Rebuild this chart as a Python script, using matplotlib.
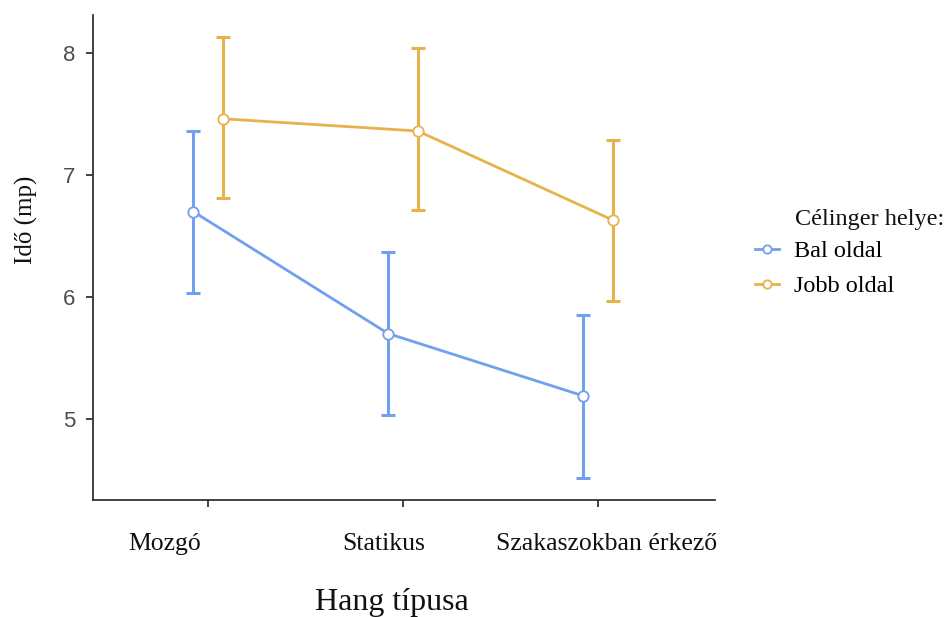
import matplotlib
matplotlib.use("Agg")
import matplotlib.pyplot as plt
import matplotlib.transforms as mtransforms
import numpy as np

categories = ["Mozgó", "Statikus", "Szakaszokban érkező"]
series_names = ["Bal oldal", "Jobb oldal"]
bal_mean = [6.70, 5.70, 5.19]
bal_low = [6.03, 5.03, 4.52]
bal_high = [7.36, 6.37, 5.85]
jobb_mean = [7.46, 7.36, 6.63]
jobb_low = [6.81, 6.71, 5.97]
jobb_high = [8.13, 8.04, 7.29]
y_ticks = [5, 6, 7, 8]

colors = ["#70A0EE", "#E8B24A"]
serif = ["Liberation Serif", "DejaVu Serif"]

fig = plt.figure(figsize=(9.48, 6.17), dpi=100)
ax = fig.add_axes([0.0981, 0.1896, 0.656, 0.786])

x = np.arange(len(categories))
dodge = 0.076
data = [(bal_mean, bal_low, bal_high), (jobb_mean, jobb_low, jobb_high)]
for i, (m, lo, hi) in enumerate(data):
    m = np.array(m); lo = np.array(lo); hi = np.array(hi)
    xs = x + (-dodge if i == 0 else dodge)
    ax.errorbar(xs, m, yerr=[m - lo, hi - m], fmt="none", ecolor=colors[i],
                elinewidth=2.2, capsize=5, capthick=2.2, zorder=2)
    ax.plot(xs, m, color=colors[i], lw=2, marker="o", markersize=7.5,
            markerfacecolor="white", markeredgecolor=colors[i],
            markeredgewidth=1.3, label=series_names[i], zorder=3)

ax.set_xlim(-0.59, 2.6)
ax.set_ylim(4.336, 8.31)
ax.set_yticks(y_ticks)
ax.set_yticklabels([str(t) for t in y_ticks], fontsize=16, color="#4d4d4d",
                   family=["Liberation Sans", "DejaVu Sans"])
ax.set_xticks(x)
ax.set_xticklabels(categories, fontsize=18.5, color="#111111", family=serif)
ax.tick_params(axis="x", length=5, width=1.3, color="#333333", pad=19)
ax.tick_params(axis="y", length=5, width=1.3, color="#333333", pad=8)

# shift x tick labels like the reference
offsets_px = [-43, -19, 9]
for lab, dx in zip(ax.get_xticklabels(), offsets_px):
    lab.set_transform(lab.get_transform() +
                      mtransforms.ScaledTranslation(dx / 100, 0, fig.dpi_scale_trans))

for s in ["top", "right"]:
    ax.spines[s].set_visible(False)
for s in ["left", "bottom"]:
    ax.spines[s].set_linewidth(1.3)
    ax.spines[s].set_color("#333333")

ax.set_xlabel("Hang típusa", fontsize=23, family=serif, color="#111111")
ax.xaxis.set_label_coords(0.48, -0.182)
ax.set_ylabel("Idő (mp)", fontsize=18, family=serif, color="#111111")
ax.yaxis.set_label_coords(-0.088, 0.577)

leg = ax.legend(loc="upper left",
                bbox_to_anchor=(755 / 948, 1 - 240 / 617),
                bbox_transform=fig.transFigure, frameon=False,
                prop={"family": serif, "size": 17.5},
                handlelength=1.0, handletextpad=0.6, labelspacing=0.55,
                borderaxespad=0, borderpad=0, markerscale=0.8)
fig.text(795 / 948, 1 - 219 / 617, "Célinger helye:", family=serif,
         fontsize=17.5, color="#111111", ha="left", va="center")

fig.savefig("out.png", dpi=100)
